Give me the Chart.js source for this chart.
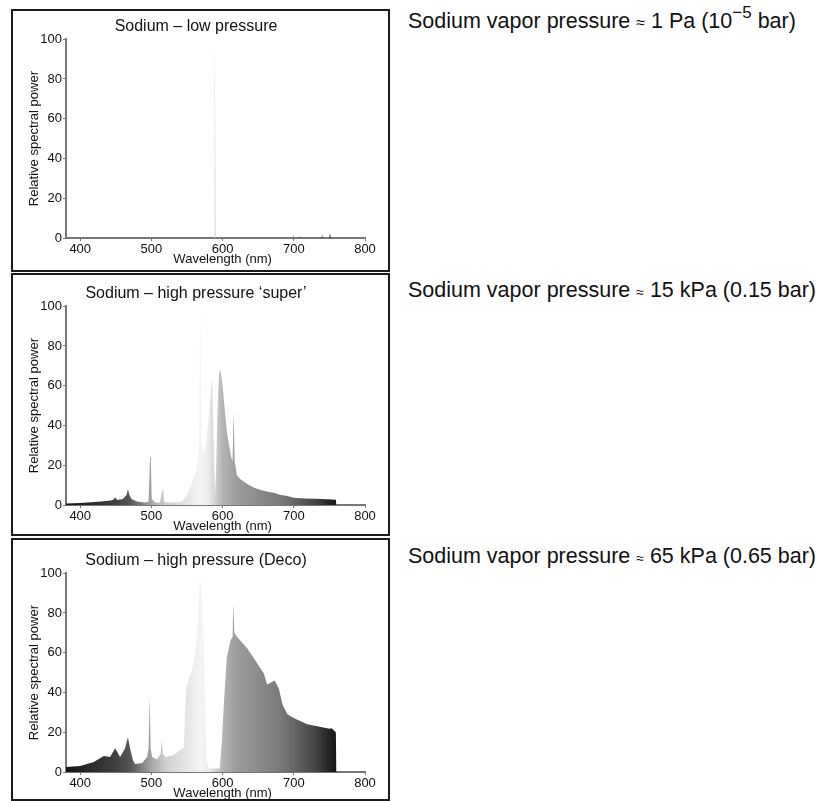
<!DOCTYPE html>
<html>
<head>
<meta charset="utf-8">
<script src="https://cdn.jsdelivr.net/npm/chart.js@4"></script>
<style>
  html, body { margin: 0; overflow: hidden; background: #fff; font-family: "Liberation Sans", Arial, Helvetica, sans-serif; color: #111; }
  .panel { position: absolute; left: 11px; width: 375px; height: 259px; border: 2px solid #1a1a1a; background: #fff; }
  canvas { position: absolute; left: 13px; }
  .note { position: absolute; left: 408px; font-size: 21.5px; line-height: 24px; white-space: nowrap; }
  .approx { font-size: 14px; }
  .sup { position: relative; top: -10px; font-size: 17px; }
</style>
</head>
<body>
<div class="panel" style="top:9px"></div>
<div class="panel" style="top:273px"></div>
<div class="panel" style="top:538px"></div>
<canvas id="lowChart" width="374" height="259" style="top:11px"></canvas>
<canvas id="superChart" width="374" height="259" style="top:278px"></canvas>
<canvas id="decoChart" width="374" height="259" style="top:545px"></canvas>

<div class="note" style="top:9px">Sodium vapor pressure <span style="font-size:16px">≈</span> 1 Pa (10<span class="sup">−5</span> bar)</div>
<div class="note" style="top:278px">Sodium vapor pressure <span class="approx">≈</span> 15 kPa (0.15 bar)</div>
<div class="note" style="top:544px">Sodium vapor pressure <span class="approx">≈</span> 65 kPa (0.65 bar)</div>

<script>
// axis ticks
const xTicks = [400, 500, 600, 700, 800];
const yTicks = [0, 20, 40, 60, 80, 100];
const xTitle = "Wavelength (nm)";
const yTitle = "Relative spectral power";

// Sodium - low pressure
const lowWavelength = [380, 587.9, 588.5, 589.0, 589.3, 589.9, 590.5, 698, 698.8, 699.5, 700.3, 708, 708.8, 709.6, 739, 739.8, 740.6, 749.5, 750.3, 751.2, 752, 800];
const lowPower = [0, 0, 100, 100, 75, 75, 0, 0, 1.8, 0.6, 0, 0, 1.2, 0, 0, 1.8, 0, 0, 2.2, 1.8, 0, 0];

// Sodium - high pressure 'super'
const superWavelength = [380, 400, 420, 440, 446, 449, 452, 460, 465, 467, 469, 472, 477, 480, 490, 496, 498, 499, 500.5, 505, 512, 515, 516.5, 518, 525, 540, 545, 550, 555, 560, 563, 565, 567, 568.5, 569.5, 570.5, 573, 576, 580, 583, 585, 586, 588, 589.5, 591, 593, 595, 597, 600, 603, 606, 609, 612, 614, 615.5, 617, 620, 625, 635, 645, 655, 665, 672, 680, 691, 700, 715, 730, 747, 759, 760];
const superPower = [0.8, 1.0, 1.5, 2.2, 2.5, 3.8, 2.5, 3, 5, 8, 5, 3, 2.2, 1.8, 1.2, 1.5, 24, 25, 3, 1.2, 1.2, 7, 8, 1.5, 1.2, 1.5, 2.5, 5, 9, 14, 17, 22, 30, 100, 100, 30, 25, 30, 42, 55, 64, 55, 20, 5, 20, 50, 66, 68, 60, 48, 37, 30, 24, 22, 47, 22, 15, 12.9, 10.4, 8.5, 7.4, 6.6, 6.2, 5.2, 4.5, 3.7, 3.3, 3.1, 2.9, 2.6, 0];

// Sodium - high pressure (Deco)
const decoWavelength = [380, 400, 419, 433, 442, 449, 456, 463, 467, 470, 474, 477, 487, 494, 496, 497.5, 499, 501, 508, 513, 514.5, 516, 520, 531, 543, 545.5, 549, 557, 562, 565, 568, 570, 573, 575, 577, 581, 596, 599, 602.5, 606, 611, 614, 615, 616.5, 620, 635, 649, 658, 662.5, 668, 673, 679, 684, 691, 700.5, 719, 738, 750, 753, 759, 760];
const decoPower = [2.5, 3, 5, 8, 7.5, 12, 7.5, 12, 17.5, 12, 6, 4, 4.5, 7.5, 12, 37.7, 12, 7.5, 6.4, 9, 16, 9, 7.5, 8.4, 11.7, 12.5, 43, 51, 61, 73, 98, 93, 68, 39, 6, 1.7, 1.7, 16, 39, 58, 66, 68, 84.6, 70, 68, 62, 54.5, 49.4, 44, 45, 46, 42, 34, 29, 27, 24, 22.6, 21.8, 22, 20, 0];

// greyscale stand-in for the visible spectrum
const shadeStops = [
  [380, "#141414"], [420, "#2e2e2e"], [450, "#404040"], [470, "#555555"],
  [490, "#8a8a8a"], [500, "#a6a6a6"], [520, "#cfcfcf"], [550, "#e6e6e6"],
  [570, "#f4f4f4"], [580, "#ececec"], [590, "#d0d0d0"], [600, "#b4b4b4"],
  [620, "#9c9c9c"], [650, "#8c8c8c"], [680, "#7a7a7a"], [700, "#676767"],
  [730, "#444444"], [760, "#141414"], [800, "#141414"]
];

const fontFamily = '"Liberation Sans", Arial, Helvetica, sans-serif';

function spectrumFill(context) {
  const chart = context.chart;
  if (!chart.chartArea) return "#888";
  const xScale = chart.scales.x;
  const x0 = xScale.getPixelForValue(380);
  const x1 = xScale.getPixelForValue(800);
  const grad = chart.ctx.createLinearGradient(x0, 0, x1, 0);
  shadeStops.forEach((s) => grad.addColorStop((s[0] - 380) / 420, s[1]));
  return grad;
}

// x axis title sits under the 600 tick in the original, not centred on the axis
const xTitlePlugin = {
  id: "xTitle",
  afterDraw(chart) {
    const ctx = chart.ctx;
    ctx.save();
    ctx.font = "13px " + fontFamily;
    ctx.fillStyle = "#111";
    ctx.textAlign = "center";
    ctx.textBaseline = "middle";
    ctx.fillText(xTitle, chart.scales.x.getPixelForValue(600), chart.chartArea.bottom + 21);
    ctx.restore();
  },
};

function makeChart(id, title, wavelength, power) {
  const points = wavelength.map((w, i) => ({ x: w, y: power[i] }));
  return new Chart(document.getElementById(id).getContext("2d"), {
    type: "line",
    data: {
      datasets: [
        {
          data: points,
          fill: "origin",
          backgroundColor: spectrumFill,
          borderWidth: 0,
          pointRadius: 0,
          tension: 0,
        },
      ],
    },
    plugins: [xTitlePlugin],
    options: {
      responsive: false,
      animation: false,
      devicePixelRatio: 1,
      layout: { padding: { left: 14, right: 22, top: 0, bottom: 0 } },
      plugins: {
        legend: { display: false },
        tooltip: { enabled: false },
        title: {
          display: true,
          text: title,
          color: "#111",
          font: { family: fontFamily, size: 16, weight: "normal" },
          padding: { top: 6, bottom: 3 },
        },
      },
      scales: {
        x: {
          type: "linear",
          min: 380,
          max: 800,
          afterBuildTicks: (scale) => {
            scale.ticks = xTicks.map((v) => ({ value: v }));
          },
          afterFit: (scale) => {
            scale.height = 32;
          },
          grid: { drawOnChartArea: false, drawTicks: true, tickLength: 3, color: "#777" },
          border: { color: "#777", width: 2 },
          ticks: { color: "#111", padding: 1, maxRotation: 0, font: { family: fontFamily, size: 13 } },
        },
        y: {
          min: 0,
          max: 100,
          afterBuildTicks: (scale) => {
            scale.ticks = yTicks.map((v) => ({ value: v }));
          },
          afterFit: (scale) => {
            scale.width = 39;
          },
          grid: { drawOnChartArea: false, drawTicks: true, tickLength: 3, color: "#777" },
          border: { color: "#777", width: 2 },
          ticks: { color: "#111", padding: 1, font: { family: fontFamily, size: 13 } },
          title: {
            display: true,
            text: yTitle,
            color: "#111",
            font: { family: fontFamily, size: 13 },
            padding: { top: 0, bottom: 0 },
          },
        },
      },
    },
  });
}

makeChart("lowChart", "Sodium – low pressure", lowWavelength, lowPower);
makeChart("superChart", "Sodium – high pressure ‘super’", superWavelength, superPower);
makeChart("decoChart", "Sodium – high pressure (Deco)", decoWavelength, decoPower);
</script>
</body>
</html>
